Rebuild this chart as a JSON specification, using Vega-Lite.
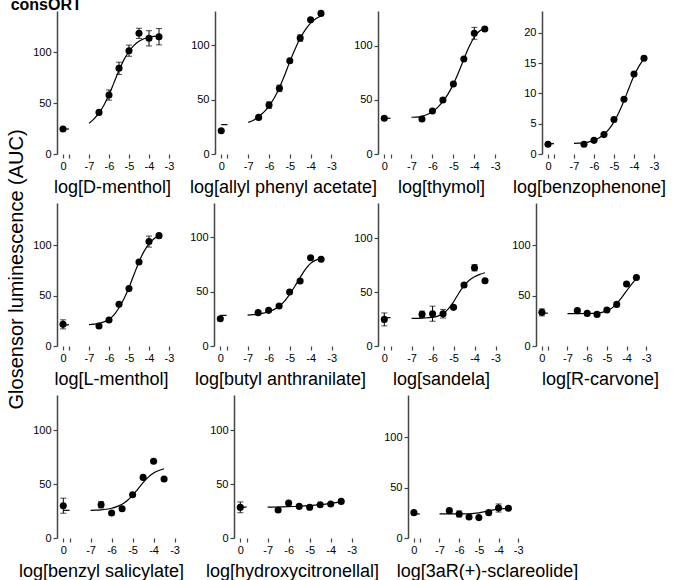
{
"$schema":"https://vega.github.io/schema/vega-lite/v6.json",
"padding":{"left":6,"top":-4,"right":0,"bottom":0},
"title":{"text":"Glosensor luminescence (AUC)","orient":"left","anchor":"middle","fontSize":20,"fontWeight":"normal","offset":-16,"dx":19,"color":"black","font":"Liberation Sans"},
"data":{"values":[
{"p":"P1","k":"z","x":-8.3,"y":24.5},{"p":"P1","k":"zl","x":-8.3,"y":24.5},{"p":"P1","k":"zl","x":-8,"y":24.5},
{"p":"P1","k":"d","x":-6.5,"y":40.8},{"p":"P1","k":"d","x":-6,"y":57.8,"e":5},{"p":"P1","k":"d","x":-5.5,"y":84,"e":6},{"p":"P1","k":"d","x":-5,"y":101.3,"e":5.5},{"p":"P1","k":"d","x":-4.5,"y":118.3,"e":5},{"p":"P1","k":"d","x":-4,"y":113.4,"e":7.5},{"p":"P1","k":"d","x":-3.5,"y":115,"e":8},
{"p":"P1","k":"c","x":-7,"y":30},{"p":"P1","k":"c","x":-6.75,"y":34.5},{"p":"P1","k":"c","x":-6.5,"y":40},{"p":"P1","k":"c","x":-6.25,"y":48},{"p":"P1","k":"c","x":-6,"y":58},{"p":"P1","k":"c","x":-5.75,"y":70},{"p":"P1","k":"c","x":-5.5,"y":82},{"p":"P1","k":"c","x":-5.25,"y":92.5},{"p":"P1","k":"c","x":-5,"y":100.5},{"p":"P1","k":"c","x":-4.75,"y":106.5},{"p":"P1","k":"c","x":-4.5,"y":110.5},{"p":"P1","k":"c","x":-4.25,"y":113},{"p":"P1","k":"c","x":-4,"y":114.5},{"p":"P1","k":"c","x":-3.75,"y":115.3},{"p":"P1","k":"c","x":-3.5,"y":115.8},
{"p":"P2","k":"z","x":-8.3,"y":21.4},{"p":"P2","k":"zl","x":-8.3,"y":27},{"p":"P2","k":"zl","x":-8,"y":27},
{"p":"P2","k":"d","x":-6.5,"y":33.7},{"p":"P2","k":"d","x":-6,"y":45,"e":3},{"p":"P2","k":"d","x":-5.5,"y":60.4,"e":3},{"p":"P2","k":"d","x":-5,"y":85.8},{"p":"P2","k":"d","x":-4.5,"y":106.7,"e":3},{"p":"P2","k":"d","x":-4,"y":123.6},{"p":"P2","k":"d","x":-3.5,"y":129.4},
{"p":"P2","k":"c","x":-7,"y":29.1},{"p":"P2","k":"c","x":-6.75,"y":31},{"p":"P2","k":"c","x":-6.5,"y":34.5},{"p":"P2","k":"c","x":-6.25,"y":38.5},{"p":"P2","k":"c","x":-6,"y":44},{"p":"P2","k":"c","x":-5.75,"y":51.5},{"p":"P2","k":"c","x":-5.5,"y":61},{"p":"P2","k":"c","x":-5.25,"y":72.5},{"p":"P2","k":"c","x":-5,"y":85},{"p":"P2","k":"c","x":-4.75,"y":96.5},{"p":"P2","k":"c","x":-4.5,"y":106.5},{"p":"P2","k":"c","x":-4.25,"y":114.5},{"p":"P2","k":"c","x":-4,"y":120.5},{"p":"P2","k":"c","x":-3.75,"y":124.5},{"p":"P2","k":"c","x":-3.5,"y":127},
{"p":"P3","k":"z","x":-8.3,"y":33},{"p":"P3","k":"zl","x":-8.3,"y":33},{"p":"P3","k":"zl","x":-8,"y":33},
{"p":"P3","k":"d","x":-6.5,"y":32.3},{"p":"P3","k":"d","x":-6,"y":39.7},{"p":"P3","k":"d","x":-5.5,"y":49.9},{"p":"P3","k":"d","x":-5,"y":64.6},{"p":"P3","k":"d","x":-4.5,"y":87.7},{"p":"P3","k":"d","x":-4,"y":111.4,"e":5.5},{"p":"P3","k":"d","x":-3.5,"y":115.4},
{"p":"P3","k":"c","x":-7,"y":33.9},{"p":"P3","k":"c","x":-6.75,"y":34},{"p":"P3","k":"c","x":-6.5,"y":34.8},{"p":"P3","k":"c","x":-6.25,"y":36.5},{"p":"P3","k":"c","x":-6,"y":39},{"p":"P3","k":"c","x":-5.75,"y":43},{"p":"P3","k":"c","x":-5.5,"y":48.5},{"p":"P3","k":"c","x":-5.25,"y":55.5},{"p":"P3","k":"c","x":-5,"y":64.5},{"p":"P3","k":"c","x":-4.75,"y":75.5},{"p":"P3","k":"c","x":-4.5,"y":87.5},{"p":"P3","k":"c","x":-4.25,"y":99},{"p":"P3","k":"c","x":-4,"y":108},{"p":"P3","k":"c","x":-3.75,"y":113.5},{"p":"P3","k":"c","x":-3.5,"y":116.5},
{"p":"P4","k":"z","x":-8.3,"y":1.6},{"p":"P4","k":"zl","x":-8.3,"y":1.7},{"p":"P4","k":"zl","x":-8,"y":1.7},
{"p":"P4","k":"d","x":-6.5,"y":1.6},{"p":"P4","k":"d","x":-6,"y":2.25},{"p":"P4","k":"d","x":-5.5,"y":3.2},{"p":"P4","k":"d","x":-5,"y":5.7},{"p":"P4","k":"d","x":-4.5,"y":9.05},{"p":"P4","k":"d","x":-4,"y":13.2},{"p":"P4","k":"d","x":-3.5,"y":15.8},
{"p":"P4","k":"c","x":-7,"y":1.75},{"p":"P4","k":"c","x":-6.75,"y":1.78},{"p":"P4","k":"c","x":-6.5,"y":1.85},{"p":"P4","k":"c","x":-6.25,"y":2.0},{"p":"P4","k":"c","x":-6,"y":2.25},{"p":"P4","k":"c","x":-5.75,"y":2.65},{"p":"P4","k":"c","x":-5.5,"y":3.25},{"p":"P4","k":"c","x":-5.25,"y":4.1},{"p":"P4","k":"c","x":-5,"y":5.3},{"p":"P4","k":"c","x":-4.75,"y":6.9},{"p":"P4","k":"c","x":-4.5,"y":8.8},{"p":"P4","k":"c","x":-4.25,"y":10.9},{"p":"P4","k":"c","x":-4,"y":12.9},{"p":"P4","k":"c","x":-3.75,"y":14.5},{"p":"P4","k":"c","x":-3.5,"y":15.7},
{"p":"P5","k":"z","x":-8.3,"y":21.5,"e":4.5},{"p":"P5","k":"zl","x":-8.3,"y":21},{"p":"P5","k":"zl","x":-8,"y":21},
{"p":"P5","k":"d","x":-6.5,"y":19.9},{"p":"P5","k":"d","x":-6,"y":25.8},{"p":"P5","k":"d","x":-5.5,"y":41.4},{"p":"P5","k":"d","x":-5,"y":57},{"p":"P5","k":"d","x":-4.5,"y":83.4},{"p":"P5","k":"d","x":-4,"y":103.7,"e":5.5},{"p":"P5","k":"d","x":-3.5,"y":109.6},
{"p":"P5","k":"c","x":-7,"y":21.3},{"p":"P5","k":"c","x":-6.75,"y":21.7},{"p":"P5","k":"c","x":-6.5,"y":22.5},{"p":"P5","k":"c","x":-6.25,"y":24},{"p":"P5","k":"c","x":-6,"y":26.5},{"p":"P5","k":"c","x":-5.75,"y":31},{"p":"P5","k":"c","x":-5.5,"y":38},{"p":"P5","k":"c","x":-5.25,"y":47},{"p":"P5","k":"c","x":-5,"y":58},{"p":"P5","k":"c","x":-4.75,"y":71},{"p":"P5","k":"c","x":-4.5,"y":83.5},{"p":"P5","k":"c","x":-4.25,"y":94},{"p":"P5","k":"c","x":-4,"y":101.5},{"p":"P5","k":"c","x":-3.75,"y":106.5},{"p":"P5","k":"c","x":-3.5,"y":109.5},
{"p":"P6","k":"z","x":-8.3,"y":25.1},{"p":"P6","k":"zl","x":-8.3,"y":28.2},{"p":"P6","k":"zl","x":-8,"y":28.2},
{"p":"P6","k":"d","x":-6.5,"y":30.7},{"p":"P6","k":"d","x":-6,"y":32.8},{"p":"P6","k":"d","x":-5.5,"y":36.8},{"p":"P6","k":"d","x":-5,"y":49.7},{"p":"P6","k":"d","x":-4.5,"y":59.8},{"p":"P6","k":"d","x":-4,"y":81.2},{"p":"P6","k":"d","x":-3.5,"y":79.8},
{"p":"P6","k":"c","x":-7,"y":28.5},{"p":"P6","k":"c","x":-6.75,"y":28.8},{"p":"P6","k":"c","x":-6.5,"y":29.3},{"p":"P6","k":"c","x":-6.25,"y":30.2},{"p":"P6","k":"c","x":-6,"y":31.5},{"p":"P6","k":"c","x":-5.75,"y":33.5},{"p":"P6","k":"c","x":-5.5,"y":36.5},{"p":"P6","k":"c","x":-5.25,"y":41},{"p":"P6","k":"c","x":-5,"y":47.5},{"p":"P6","k":"c","x":-4.75,"y":55},{"p":"P6","k":"c","x":-4.5,"y":63},{"p":"P6","k":"c","x":-4.25,"y":70.5},{"p":"P6","k":"c","x":-4,"y":76},{"p":"P6","k":"c","x":-3.75,"y":79},{"p":"P6","k":"c","x":-3.5,"y":80.5},
{"p":"P7","k":"z","x":-8.3,"y":24.7,"e":6},{"p":"P7","k":"zl","x":-8.3,"y":26.3},{"p":"P7","k":"zl","x":-8,"y":26.3},
{"p":"P7","k":"d","x":-6.5,"y":29.4,"e":3},{"p":"P7","k":"d","x":-6,"y":30,"e":7},{"p":"P7","k":"d","x":-5.5,"y":30,"e":4},{"p":"P7","k":"d","x":-5,"y":35.9},{"p":"P7","k":"d","x":-4.5,"y":56.6},{"p":"P7","k":"d","x":-4,"y":72.7,"e":3},{"p":"P7","k":"d","x":-3.5,"y":60.6},
{"p":"P7","k":"c","x":-7,"y":25.6},{"p":"P7","k":"c","x":-6.5,"y":25.9},{"p":"P7","k":"c","x":-6,"y":26.6},{"p":"P7","k":"c","x":-5.75,"y":27.8},{"p":"P7","k":"c","x":-5.5,"y":30},{"p":"P7","k":"c","x":-5.25,"y":34.5},{"p":"P7","k":"c","x":-5,"y":41},{"p":"P7","k":"c","x":-4.75,"y":49},{"p":"P7","k":"c","x":-4.5,"y":56},{"p":"P7","k":"c","x":-4.25,"y":61},{"p":"P7","k":"c","x":-4,"y":64.3},{"p":"P7","k":"c","x":-3.75,"y":66.5},{"p":"P7","k":"c","x":-3.5,"y":68},
{"p":"P8","k":"z","x":-8.3,"y":33.3,"e":3.5},{"p":"P8","k":"zl","x":-8.3,"y":32.5},{"p":"P8","k":"zl","x":-8,"y":32.5},
{"p":"P8","k":"d","x":-6.5,"y":35},{"p":"P8","k":"d","x":-6,"y":32.3},{"p":"P8","k":"d","x":-5.5,"y":31.3},{"p":"P8","k":"d","x":-5,"y":35.6},{"p":"P8","k":"d","x":-4.5,"y":41.2},{"p":"P8","k":"d","x":-4,"y":61.4},{"p":"P8","k":"d","x":-3.5,"y":67.9},
{"p":"P8","k":"c","x":-7,"y":32.1},{"p":"P8","k":"c","x":-6.5,"y":32.1},{"p":"P8","k":"c","x":-6,"y":32.2},{"p":"P8","k":"c","x":-5.5,"y":32.6},{"p":"P8","k":"c","x":-5.25,"y":33.3},{"p":"P8","k":"c","x":-5,"y":34.8},{"p":"P8","k":"c","x":-4.75,"y":37.5},{"p":"P8","k":"c","x":-4.5,"y":42},{"p":"P8","k":"c","x":-4.25,"y":48},{"p":"P8","k":"c","x":-4,"y":54.5},{"p":"P8","k":"c","x":-3.75,"y":61},{"p":"P8","k":"c","x":-3.5,"y":67},
{"p":"P9","k":"z","x":-8.3,"y":30,"e":7},{"p":"P9","k":"zl","x":-8.3,"y":25.7},{"p":"P9","k":"zl","x":-8,"y":25.7},
{"p":"P9","k":"d","x":-6.5,"y":30.9,"e":3},{"p":"P9","k":"d","x":-6,"y":23.2},{"p":"P9","k":"d","x":-5.5,"y":27.2},{"p":"P9","k":"d","x":-5,"y":40.2},{"p":"P9","k":"d","x":-4.5,"y":56.3},{"p":"P9","k":"d","x":-4,"y":71.2},{"p":"P9","k":"d","x":-3.5,"y":54.8},
{"p":"P9","k":"c","x":-7,"y":25.7},{"p":"P9","k":"c","x":-6.75,"y":25.8},{"p":"P9","k":"c","x":-6.5,"y":26.1},{"p":"P9","k":"c","x":-6.25,"y":26.7},{"p":"P9","k":"c","x":-6,"y":27.6},{"p":"P9","k":"c","x":-5.75,"y":29.1},{"p":"P9","k":"c","x":-5.5,"y":31.3},{"p":"P9","k":"c","x":-5.25,"y":34.8},{"p":"P9","k":"c","x":-5,"y":39.5},{"p":"P9","k":"c","x":-4.75,"y":45.5},{"p":"P9","k":"c","x":-4.5,"y":51.5},{"p":"P9","k":"c","x":-4.25,"y":56.5},{"p":"P9","k":"c","x":-4,"y":60.3},{"p":"P9","k":"c","x":-3.75,"y":62.7},{"p":"P9","k":"c","x":-3.5,"y":64.3},
{"p":"P10","k":"z","x":-8.3,"y":28.5,"e":5},{"p":"P10","k":"zl","x":-8.3,"y":28.7},{"p":"P10","k":"zl","x":-8,"y":28.7},
{"p":"P10","k":"d","x":-6.5,"y":26},{"p":"P10","k":"d","x":-6,"y":32.5},{"p":"P10","k":"d","x":-5.5,"y":29.4},{"p":"P10","k":"d","x":-5,"y":28.5},{"p":"P10","k":"d","x":-4.5,"y":30.9},{"p":"P10","k":"d","x":-4,"y":31.6},{"p":"P10","k":"d","x":-3.5,"y":34},
{"p":"P10","k":"c","x":-7,"y":28.6},{"p":"P10","k":"c","x":-6.5,"y":28.8},{"p":"P10","k":"c","x":-6,"y":29.1},{"p":"P10","k":"c","x":-5.5,"y":29.5},{"p":"P10","k":"c","x":-5,"y":30.1},{"p":"P10","k":"c","x":-4.5,"y":31},{"p":"P10","k":"c","x":-4,"y":32.2},{"p":"P10","k":"c","x":-3.5,"y":33.5},
{"p":"P11","k":"z","x":-8.3,"y":25.1},{"p":"P11","k":"zl","x":-8.3,"y":23.8},{"p":"P11","k":"zl","x":-8,"y":23.8},
{"p":"P11","k":"d","x":-6.5,"y":27.1},{"p":"P11","k":"d","x":-6,"y":23.8,"e":3},{"p":"P11","k":"d","x":-5.5,"y":20.8},{"p":"P11","k":"d","x":-5,"y":20.2},{"p":"P11","k":"d","x":-4.5,"y":25.1},{"p":"P11","k":"d","x":-4,"y":29.7,"e":4},{"p":"P11","k":"d","x":-3.5,"y":29.4},
{"p":"P11","k":"c","x":-7,"y":23.8},{"p":"P11","k":"c","x":-6.5,"y":23.8},{"p":"P11","k":"c","x":-6,"y":23.8},{"p":"P11","k":"c","x":-5.5,"y":24},{"p":"P11","k":"c","x":-5.25,"y":24.3},{"p":"P11","k":"c","x":-5,"y":24.9},{"p":"P11","k":"c","x":-4.75,"y":25.8},{"p":"P11","k":"c","x":-4.5,"y":26.9},{"p":"P11","k":"c","x":-4.25,"y":27.9},{"p":"P11","k":"c","x":-4,"y":28.6},{"p":"P11","k":"c","x":-3.75,"y":29.1},{"p":"P11","k":"c","x":-3.5,"y":29.4}
]},
"spacing":7,
"vconcat":[
{"bounds":"flush","spacing":30,
 "title":{"text":"consORT","anchor":"start","fontSize":16,"fontWeight":"bold","offset":-3,"dx":-22,"color":"black","font":"Liberation Sans"},
 "hconcat":[
{"width":128,"height":143,
 "encoding":{"x":{"field":"x","type":"quantitative","scale":{"domain":[-8.6,-2.2]},"axis":{"values":[-8.3,-8,-7,-6,-5,-4,-3],"labelExpr":"datum.value==-8.3?'0':datum.value==-8?'':datum.value+''","domain":false,"title":"log[D-menthol]","titleX":55}},
   "y":{"field":"y","type":"quantitative","scale":{"domain":[0,140.2]},"axis":{"values":[0,50,100],"title":null}}},
 "layer":[
  {"data":{"values":[{}]},"mark":{"type":"rule","color":"#444","strokeWidth":1.5},"encoding":{"x":{"datum":-8.6},"x2":{"datum":-8},"y":{"datum":0}}},
  {"data":{"values":[{}]},"mark":{"type":"rule","color":"#444","strokeWidth":1.5},"encoding":{"x":{"datum":-7},"x2":{"datum":-3},"y":{"datum":0}}},
  {"transform":[{"filter":"datum.p=='P1' && (datum.k=='zl'||datum.k=='c')"}],"mark":{"type":"line","color":"black","strokeWidth":1.2,"interpolate":"monotone"},"encoding":{"detail":{"field":"k"}}},
  {"transform":[{"filter":"datum.p=='P1' && datum.e>0"}],"mark":{"type":"errorbar","ticks":true,"size":6,"thickness":1,"color":"black"},"encoding":{"yError":{"field":"e"}}},
  {"transform":[{"filter":"datum.p=='P1' && (datum.k=='z'||datum.k=='d')"}],"mark":{"type":"circle","size":50,"color":"black","opacity":1}}]},
{"width":133,"height":143,
 "encoding":{"x":{"field":"x","type":"quantitative","scale":{"domain":[-8.6,-2.2]},"axis":{"values":[-8.3,-8,-7,-6,-5,-4,-3],"labelExpr":"datum.value==-8.3?'0':datum.value==-8?'':datum.value+''","domain":false,"title":"log[allyl phenyl acetate]","titleX":68}},
   "y":{"field":"y","type":"quantitative","scale":{"domain":[0,131.6]},"axis":{"values":[0,50,100],"title":null}}},
 "layer":[
  {"data":{"values":[{}]},"mark":{"type":"rule","color":"#444","strokeWidth":1.5},"encoding":{"x":{"datum":-8.6},"x2":{"datum":-8},"y":{"datum":0}}},
  {"data":{"values":[{}]},"mark":{"type":"rule","color":"#444","strokeWidth":1.5},"encoding":{"x":{"datum":-7},"x2":{"datum":-3},"y":{"datum":0}}},
  {"transform":[{"filter":"datum.p=='P2' && (datum.k=='zl'||datum.k=='c')"}],"mark":{"type":"line","color":"black","strokeWidth":1.2,"interpolate":"monotone"},"encoding":{"detail":{"field":"k"}}},
  {"transform":[{"filter":"datum.p=='P2' && datum.e>0"}],"mark":{"type":"errorbar","ticks":true,"size":6,"thickness":1,"color":"black"},"encoding":{"yError":{"field":"e"}}},
  {"transform":[{"filter":"datum.p=='P2' && (datum.k=='z'||datum.k=='d')"}],"mark":{"type":"circle","size":50,"color":"black","opacity":1}}]},
{"width":134,"height":143,
 "encoding":{"x":{"field":"x","type":"quantitative","scale":{"domain":[-8.6,-2.2]},"axis":{"values":[-8.3,-8,-7,-6,-5,-4,-3],"labelExpr":"datum.value==-8.3?'0':datum.value==-8?'':datum.value+''","domain":false,"title":"log[thymol]","titleX":63}},
   "y":{"field":"y","type":"quantitative","scale":{"domain":[0,132]},"axis":{"values":[0,50,100],"title":null}}},
 "layer":[
  {"data":{"values":[{}]},"mark":{"type":"rule","color":"#444","strokeWidth":1.5},"encoding":{"x":{"datum":-8.6},"x2":{"datum":-8},"y":{"datum":0}}},
  {"data":{"values":[{}]},"mark":{"type":"rule","color":"#444","strokeWidth":1.5},"encoding":{"x":{"datum":-7},"x2":{"datum":-3},"y":{"datum":0}}},
  {"transform":[{"filter":"datum.p=='P3' && (datum.k=='zl'||datum.k=='c')"}],"mark":{"type":"line","color":"black","strokeWidth":1.2,"interpolate":"monotone"},"encoding":{"detail":{"field":"k"}}},
  {"transform":[{"filter":"datum.p=='P3' && datum.e>0"}],"mark":{"type":"errorbar","ticks":true,"size":6,"thickness":1,"color":"black"},"encoding":{"yError":{"field":"e"}}},
  {"transform":[{"filter":"datum.p=='P3' && (datum.k=='z'||datum.k=='d')"}],"mark":{"type":"circle","size":50,"color":"black","opacity":1}}]},
{"width":118,"height":143,
 "encoding":{"x":{"field":"x","type":"quantitative","scale":{"domain":[-8.6,-2.7]},"axis":{"values":[-8.3,-8,-7,-6,-5,-4,-3],"labelExpr":"datum.value==-8.3?'0':datum.value==-8?'':datum.value+''","domain":false,"title":"log[benzophenone]","titleX":47}},
   "y":{"field":"y","type":"quantitative","scale":{"domain":[0,23.6]},"axis":{"values":[0,5,10,15,20],"title":null}}},
 "layer":[
  {"data":{"values":[{}]},"mark":{"type":"rule","color":"#444","strokeWidth":1.5},"encoding":{"x":{"datum":-8.6},"x2":{"datum":-8},"y":{"datum":0}}},
  {"data":{"values":[{}]},"mark":{"type":"rule","color":"#444","strokeWidth":1.5},"encoding":{"x":{"datum":-7},"x2":{"datum":-3},"y":{"datum":0}}},
  {"transform":[{"filter":"datum.p=='P4' && (datum.k=='zl'||datum.k=='c')"}],"mark":{"type":"line","color":"black","strokeWidth":1.2,"interpolate":"monotone"},"encoding":{"detail":{"field":"k"}}},
  {"transform":[{"filter":"datum.p=='P4' && datum.e>0"}],"mark":{"type":"errorbar","ticks":true,"size":6,"thickness":1,"color":"black"},"encoding":{"yError":{"field":"e"}}},
  {"transform":[{"filter":"datum.p=='P4' && (datum.k=='z'||datum.k=='d')"}],"mark":{"type":"circle","size":50,"color":"black","opacity":1}}]}
]},
{"bounds":"flush","spacing":30,"hconcat":[
{"width":127,"height":143,
 "encoding":{"x":{"field":"x","type":"quantitative","scale":{"domain":[-8.6,-2.25]},"axis":{"values":[-8.3,-8,-7,-6,-5,-4,-3],"labelExpr":"datum.value==-8.3?'0':datum.value==-8?'':datum.value+''","domain":false,"title":"log[L-menthol]","titleX":54}},
   "y":{"field":"y","type":"quantitative","scale":{"domain":[0,142]},"axis":{"values":[0,50,100],"title":null}}},
 "layer":[
  {"data":{"values":[{}]},"mark":{"type":"rule","color":"#444","strokeWidth":1.5},"encoding":{"x":{"datum":-8.6},"x2":{"datum":-8},"y":{"datum":0}}},
  {"data":{"values":[{}]},"mark":{"type":"rule","color":"#444","strokeWidth":1.5},"encoding":{"x":{"datum":-7},"x2":{"datum":-3},"y":{"datum":0}}},
  {"transform":[{"filter":"datum.p=='P5' && (datum.k=='zl'||datum.k=='c')"}],"mark":{"type":"line","color":"black","strokeWidth":1.2,"interpolate":"monotone"},"encoding":{"detail":{"field":"k"}}},
  {"transform":[{"filter":"datum.p=='P5' && datum.e>0"}],"mark":{"type":"errorbar","ticks":true,"size":6,"thickness":1,"color":"black"},"encoding":{"yError":{"field":"e"}}},
  {"transform":[{"filter":"datum.p=='P5' && (datum.k=='z'||datum.k=='d')"}],"mark":{"type":"circle","size":50,"color":"black","opacity":1}}]},
{"width":134,"height":143,
 "encoding":{"x":{"field":"x","type":"quantitative","scale":{"domain":[-8.6,-2.22]},"axis":{"values":[-8.3,-8,-7,-6,-5,-4,-3],"labelExpr":"datum.value==-8.3?'0':datum.value==-8?'':datum.value+''","domain":false,"title":"log[butyl anthranilate]","titleX":66}},
   "y":{"field":"y","type":"quantitative","scale":{"domain":[0,131.6]},"axis":{"values":[0,50,100],"title":null}}},
 "layer":[
  {"data":{"values":[{}]},"mark":{"type":"rule","color":"#444","strokeWidth":1.5},"encoding":{"x":{"datum":-8.6},"x2":{"datum":-8},"y":{"datum":0}}},
  {"data":{"values":[{}]},"mark":{"type":"rule","color":"#444","strokeWidth":1.5},"encoding":{"x":{"datum":-7},"x2":{"datum":-3},"y":{"datum":0}}},
  {"transform":[{"filter":"datum.p=='P6' && (datum.k=='zl'||datum.k=='c')"}],"mark":{"type":"line","color":"black","strokeWidth":1.2,"interpolate":"monotone"},"encoding":{"detail":{"field":"k"}}},
  {"transform":[{"filter":"datum.p=='P6' && datum.e>0"}],"mark":{"type":"errorbar","ticks":true,"size":6,"thickness":1,"color":"black"},"encoding":{"yError":{"field":"e"}}},
  {"transform":[{"filter":"datum.p=='P6' && (datum.k=='z'||datum.k=='d')"}],"mark":{"type":"circle","size":50,"color":"black","opacity":1}}]},
{"width":128,"height":143,
 "encoding":{"x":{"field":"x","type":"quantitative","scale":{"domain":[-8.6,-2.5]},"axis":{"values":[-8.3,-8,-7,-6,-5,-4,-3],"labelExpr":"datum.value==-8.3?'0':datum.value==-8?'':datum.value+''","domain":false,"title":"log[sandela]","titleX":63}},
   "y":{"field":"y","type":"quantitative","scale":{"domain":[0,132.8]},"axis":{"values":[0,50,100],"title":null}}},
 "layer":[
  {"data":{"values":[{}]},"mark":{"type":"rule","color":"#444","strokeWidth":1.5},"encoding":{"x":{"datum":-8.6},"x2":{"datum":-8},"y":{"datum":0}}},
  {"data":{"values":[{}]},"mark":{"type":"rule","color":"#444","strokeWidth":1.5},"encoding":{"x":{"datum":-7},"x2":{"datum":-3},"y":{"datum":0}}},
  {"transform":[{"filter":"datum.p=='P7' && (datum.k=='zl'||datum.k=='c')"}],"mark":{"type":"line","color":"black","strokeWidth":1.2,"interpolate":"monotone"},"encoding":{"detail":{"field":"k"}}},
  {"transform":[{"filter":"datum.p=='P7' && datum.e>0"}],"mark":{"type":"errorbar","ticks":true,"size":6,"thickness":1,"color":"black"},"encoding":{"yError":{"field":"e"}}},
  {"transform":[{"filter":"datum.p=='P7' && (datum.k=='z'||datum.k=='d')"}],"mark":{"type":"circle","size":50,"color":"black","opacity":1}}]},
{"width":126,"height":143,
 "encoding":{"x":{"field":"x","type":"quantitative","scale":{"domain":[-8.6,-2.2]},"axis":{"values":[-8.3,-8,-7,-6,-5,-4,-3],"labelExpr":"datum.value==-8.3?'0':datum.value==-8?'':datum.value+''","domain":false,"title":"log[R-carvone]","titleX":64}},
   "y":{"field":"y","type":"quantitative","scale":{"domain":[0,141.6]},"axis":{"values":[0,50,100],"title":null}}},
 "layer":[
  {"data":{"values":[{}]},"mark":{"type":"rule","color":"#444","strokeWidth":1.5},"encoding":{"x":{"datum":-8.6},"x2":{"datum":-8},"y":{"datum":0}}},
  {"data":{"values":[{}]},"mark":{"type":"rule","color":"#444","strokeWidth":1.5},"encoding":{"x":{"datum":-7},"x2":{"datum":-3},"y":{"datum":0}}},
  {"transform":[{"filter":"datum.p=='P8' && (datum.k=='zl'||datum.k=='c')"}],"mark":{"type":"line","color":"black","strokeWidth":1.2,"interpolate":"monotone"},"encoding":{"detail":{"field":"k"}}},
  {"transform":[{"filter":"datum.p=='P8' && datum.e>0"}],"mark":{"type":"errorbar","ticks":true,"size":6,"thickness":1,"color":"black"},"encoding":{"yError":{"field":"e"}}},
  {"transform":[{"filter":"datum.p=='P8' && (datum.k=='z'||datum.k=='d')"}],"mark":{"type":"circle","size":50,"color":"black","opacity":1}}]}
]},
{"bounds":"flush","spacing":30,"hconcat":[
{"width":147,"height":143,
 "encoding":{"x":{"field":"x","type":"quantitative","scale":{"domain":[-8.6,-1.6]},"axis":{"values":[-8.3,-8,-7,-6,-5,-4,-3],"labelExpr":"datum.value==-8.3?'0':datum.value==-8?'':datum.value+''","domain":false,"title":"log[benzyl salicylate]","titleX":44}},
   "y":{"field":"y","type":"quantitative","scale":{"domain":[0,132.8]},"axis":{"values":[0,50,100],"title":null}}},
 "layer":[
  {"data":{"values":[{}]},"mark":{"type":"rule","color":"#444","strokeWidth":1.5},"encoding":{"x":{"datum":-8.6},"x2":{"datum":-8},"y":{"datum":0}}},
  {"data":{"values":[{}]},"mark":{"type":"rule","color":"#444","strokeWidth":1.5},"encoding":{"x":{"datum":-7},"x2":{"datum":-3},"y":{"datum":0}}},
  {"transform":[{"filter":"datum.p=='P9' && (datum.k=='zl'||datum.k=='c')"}],"mark":{"type":"line","color":"black","strokeWidth":1.2,"interpolate":"monotone"},"encoding":{"detail":{"field":"k"}}},
  {"transform":[{"filter":"datum.p=='P9' && datum.e>0"}],"mark":{"type":"errorbar","ticks":true,"size":6,"thickness":1,"color":"black"},"encoding":{"yError":{"field":"e"}}},
  {"transform":[{"filter":"datum.p=='P9' && (datum.k=='z'||datum.k=='d')"}],"mark":{"type":"circle","size":50,"color":"black","opacity":1}}]},
{"width":144,"height":143,
 "encoding":{"x":{"field":"x","type":"quantitative","scale":{"domain":[-8.6,-1.75]},"axis":{"values":[-8.3,-8,-7,-6,-5,-4,-3],"labelExpr":"datum.value==-8.3?'0':datum.value==-8?'':datum.value+''","domain":false,"title":"log[hydroxycitronellal]","titleX":58}},
   "y":{"field":"y","type":"quantitative","scale":{"domain":[0,132.8]},"axis":{"values":[0,50,100],"title":null}}},
 "layer":[
  {"data":{"values":[{}]},"mark":{"type":"rule","color":"#444","strokeWidth":1.5},"encoding":{"x":{"datum":-8.6},"x2":{"datum":-8},"y":{"datum":0}}},
  {"data":{"values":[{}]},"mark":{"type":"rule","color":"#444","strokeWidth":1.5},"encoding":{"x":{"datum":-7},"x2":{"datum":-3},"y":{"datum":0}}},
  {"transform":[{"filter":"datum.p=='P10' && (datum.k=='zl'||datum.k=='c')"}],"mark":{"type":"line","color":"black","strokeWidth":1.2,"interpolate":"monotone"},"encoding":{"detail":{"field":"k"}}},
  {"transform":[{"filter":"datum.p=='P10' && datum.e>0"}],"mark":{"type":"errorbar","ticks":true,"size":6,"thickness":1,"color":"black"},"encoding":{"yError":{"field":"e"}}},
  {"transform":[{"filter":"datum.p=='P10' && (datum.k=='z'||datum.k=='d')"}],"mark":{"type":"circle","size":50,"color":"black","opacity":1}}]},
{"width":126,"height":143,
 "encoding":{"x":{"field":"x","type":"quantitative","scale":{"domain":[-8.6,-2.2]},"axis":{"values":[-8.3,-8,-7,-6,-5,-4,-3],"labelExpr":"datum.value==-8.3?'0':datum.value==-8?'':datum.value+''","domain":false,"title":"log[3aR(+)-sclareolide]","titleX":79}},
   "y":{"field":"y","type":"quantitative","scale":{"domain":[0,141.6]},"axis":{"values":[0,50,100],"title":null}}},
 "layer":[
  {"data":{"values":[{}]},"mark":{"type":"rule","color":"#444","strokeWidth":1.5},"encoding":{"x":{"datum":-8.6},"x2":{"datum":-8},"y":{"datum":0}}},
  {"data":{"values":[{}]},"mark":{"type":"rule","color":"#444","strokeWidth":1.5},"encoding":{"x":{"datum":-7},"x2":{"datum":-3},"y":{"datum":0}}},
  {"transform":[{"filter":"datum.p=='P11' && (datum.k=='zl'||datum.k=='c')"}],"mark":{"type":"line","color":"black","strokeWidth":1.2,"interpolate":"monotone"},"encoding":{"detail":{"field":"k"}}},
  {"transform":[{"filter":"datum.p=='P11' && datum.e>0"}],"mark":{"type":"errorbar","ticks":true,"size":6,"thickness":1,"color":"black"},"encoding":{"yError":{"field":"e"}}},
  {"transform":[{"filter":"datum.p=='P11' && (datum.k=='z'||datum.k=='d')"}],"mark":{"type":"circle","size":50,"color":"black","opacity":1}}]}
]}
],
"config":{
 "view":{"stroke":null},
 "font":"Liberation Sans",
 "axis":{"grid":false,"domainColor":"#444","domainWidth":1.5,"tickColor":"#444","tickWidth":1.2,"tickSize":4,"labelFont":"Liberation Sans","labelFontSize":11,"labelColor":"black","labelPadding":2,"titleFont":"Liberation Sans","titleFontWeight":"normal","titleColor":"black","titleFontSize":18,"titlePadding":7}
}
}
